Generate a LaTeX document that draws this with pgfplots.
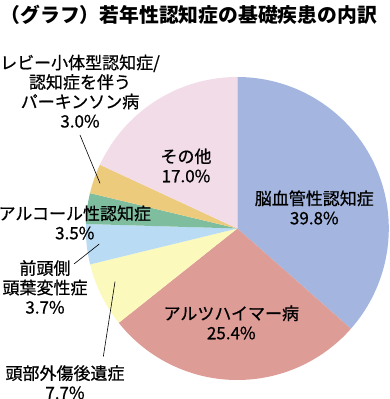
\documentclass[border=0pt]{standalone}
\usepackage{pgfplots}
\pgfplotsset{compat=1.18}
\usepackage{pgfplotstable}
\usepackage{fontspec}
\setmainfont{Noto Sans CJK JP}
\newfontfamily\lblfont{Noto Sans CJK JP}[FakeBold=0.7]
\definecolor{cBlue}{HTML}{A4B6DF}
\definecolor{cRed}{HTML}{DE9C97}
\definecolor{cYellow}{HTML}{FBF9BC}
\definecolor{cLBlue}{HTML}{B9DBF3}
\definecolor{cGreen}{HTML}{7EBD9E}
\definecolor{cOrange}{HTML}{EDCB7D}
\definecolor{cPink}{HTML}{F2DCE8}
% pct = labelled share, span = drawn angle of the slice (deg), clockwise from 12 o'clock
\pgfplotstableread{
name pct span col
vascular 39.8 131.4 cBlue
alzheimer 25.4 100.1 cRed
trauma 7.7 24.8 cYellow
ftld 3.7 15.4 cLBlue
alcohol 3.5 11.8 cGreen
lewy 3.0 11.4 cOrange
other 17.0 65.1 cPink
}\piedata
\newcommand\labelfont{\lblfont\fontsize{17}{19.5}\selectfont}
\begin{document}
\begin{tikzpicture}
\begin{axis}[width=390pt,height=399pt,scale only axis,hide axis,clip=false,
  xmin=-237.3,xmax=152.7,ymin=-170.5,ymax=228.5]
\def\angstart{90}
\pgfplotsforeachungrouped \i in {0,...,6}{%
  \pgfplotstablegetelem{\i}{span}\of\piedata \let\slicespan\pgfplotsretval
  \pgfplotstablegetelem{\i}{col}\of\piedata \let\slicecol\pgfplotsretval
  \pgfmathsetmacro\angend{\angstart-\slicespan}%
  \edef\temp{\noexpand\addplot[fill=\slicecol,draw=none,domain=\angend:\angstart,samples=90] ({151.5*cos(x)},{151.5*sin(x)}) -- (axis cs:0,0) -- cycle;}%
  \temp
  \global\let\angstart\angend
}
\addplot[black,line width=0.6pt] coordinates {(-157.3,93.5) (-137.3,45.2)};
\addplot[black,line width=0.6pt] coordinates {(-163.3,-35.5) (-138,-15.5)};
\addplot[black,line width=0.6pt] coordinates {(-134,-128.2) (-122.3,-53.2)};
\node[inner sep=0pt,font=\fontsize{19.8}{22}\selectfont\bfseries] at (axis cs:-48.5,214) {（グラフ）若年性認知症の基礎疾患の内訳};
\node[align=center,inner sep=0pt,font=\labelfont] at (axis cs:-51.3,63) {その他\\17.0\%};
\node[align=center,inner sep=0pt,font=\labelfont] at (axis cs:77,21) {脳血管性認知症\\39.8\%};
\node[align=center,inner sep=0pt,font=\labelfont] at (axis cs:-6,-94) {アルツハイマー病\\25.4\%};
\node[align=center,inner sep=0pt,font=\labelfont] at (axis cs:-172.3,-153.8) {頭部外傷後遺症\\7.7\%};
\node[align=center,inner sep=0pt,font=\labelfont] at (axis cs:-192.3,-58.5) {前頭側\\頭葉変性症\\3.7\%};
\node[align=center,inner sep=0pt,font=\labelfont] at (axis cs:-162.5,6) {アルコール性認知症\\3.5\%};
\node[align=center,inner sep=0pt,font=\labelfont] at (axis cs:-157.3,137.3) {レビー小体型認知症/\\認知症を伴う\\パーキンソン病\\3.0\%};
\end{axis}
\pgfresetboundingbox
\path (current axis.south west) rectangle (current axis.north east);
\end{tikzpicture}
\end{document}
